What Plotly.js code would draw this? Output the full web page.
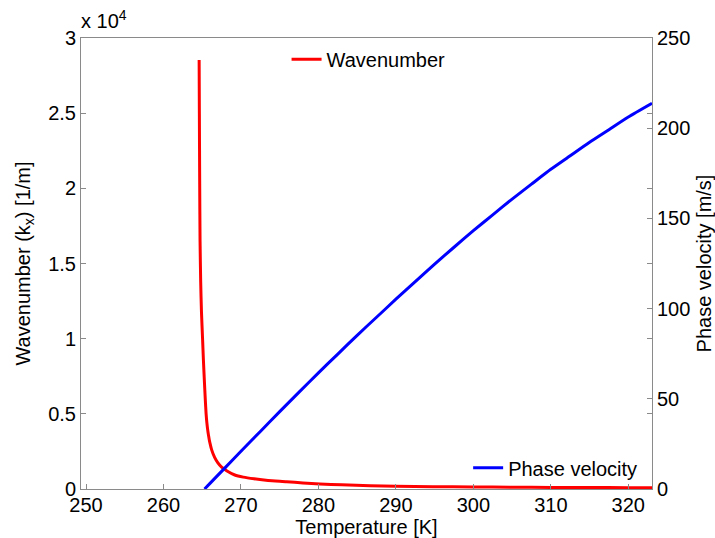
<!DOCTYPE html>
<html>
<head>
<meta charset="utf-8">
<script src="https://cdn.plot.ly/plotly-3.0.1.min.js"></script>
<style>html,body{margin:0;padding:0;background:#fff;}#chart{width:715px;height:538px;}</style>
</head>
<body>
<div id="chart"></div>
<script>
// Temperature [K] and wavenumber k_x [1/m] (red curve)
const tempWave = [264.6, 264.63, 264.67, 264.72, 264.8, 264.9, 265.05, 265.15, 265.27, 265.4, 265.5, 265.6, 265.7, 265.8, 265.9, 266.0, 266.22, 266.6, 267.0, 267.5, 268.2, 269.2, 270.3, 271.7, 273.5, 275.9, 278.0, 280.2, 283.0, 286.7, 290.0, 294.8, 300.0, 305.0, 310.0, 315.0, 320.0, 323.06];
const wavenumber = [28540, 25000, 20500, 16500, 13800, 11800, 9900, 8600, 7250, 5900, 5000, 4400, 3950, 3600, 3300, 3050, 2600, 2100, 1750, 1450, 1200, 931, 790, 680, 570, 486, 400, 333, 275, 222, 190, 155, 135, 120, 108, 98, 90, 86];

// Temperature [K] and phase velocity [m/s] (blue curve)
const tempVel = [265.3, 266, 268, 270, 272.5, 275, 277.5, 280, 282.5, 285, 287.5, 290, 292.5, 295, 297.5, 300, 302.5, 305, 307.5, 310, 312.5, 315, 317.5, 320, 323.06];
const phaseVelocity = [0, 3.1, 12.0, 20.9, 31.9, 42.9, 53.7, 64.4, 74.8, 85.2, 95.2, 105.2, 115.0, 124.7, 134.0, 143.2, 152.0, 160.7, 169.0, 177.2, 184.7, 192.2, 199.2, 206.2, 213.8];

// Axis ticks
const xTicks = [250, 260, 270, 280, 290, 300, 310, 320];
const yTicks = [0, 5000, 10000, 15000, 20000, 25000, 30000];
const yTickText = ['0', '0.5', '1', '1.5', '2', '2.5', '3'];
const y2Ticks = [0, 50, 100, 150, 200, 250];

const FONT = 'Liberation Sans, Arial, sans-serif';
const AXC = '#8a8a8a';
const FS = 20;

const traces = [
  {x: tempWave, y: wavenumber, type: 'scatter', mode: 'lines', name: 'Wavenumber',
   line: {color: '#ff0000', width: 3, shape: 'spline', smoothing: 0.6}, yaxis: 'y', legend: 'legend'},
  {x: tempVel, y: phaseVelocity, type: 'scatter', mode: 'lines', name: 'Phase velocity',
   line: {color: '#0000ff', width: 3, shape: 'spline', smoothing: 0.6}, yaxis: 'y2', legend: 'legend2'}
];

const layout = {
  width: 715, height: 538,
  margin: {l: 81, r: 63, t: 38, b: 49},
  paper_bgcolor: '#fff', plot_bgcolor: '#fff',
  font: {family: FONT, size: FS, color: '#000'},
  showlegend: true,
  xaxis: {
    range: [249.35, 323.06], tickvals: xTicks, ticks: 'inside', ticklen: 5, tickcolor: AXC,
    showline: true, linecolor: AXC, linewidth: 1, mirror: true, showgrid: false, zeroline: false,
    tickfont: {size: FS, family: FONT}, automargin: false, ticklabelstandoff: -2,
    title: {text: 'Temperature [K]', font: {size: FS, family: FONT}, standoff: 0}
  },
  yaxis: {
    range: [0, 30000], tickvals: yTicks, ticktext: yTickText, ticks: 'inside', ticklen: 5, tickcolor: AXC,
    showline: true, linecolor: AXC, linewidth: 1, mirror: 'ticks', showgrid: false, zeroline: false,
    tickfont: {size: FS, family: FONT}, automargin: false,
    title: {text: 'Wavenumber (k<sub>x</sub>) [1/m]', font: {size: FS, family: FONT}, standoff: 12}
  },
  yaxis2: {
    range: [0, 250], tickvals: y2Ticks, ticks: 'inside', ticklen: 5, tickcolor: AXC,
    overlaying: 'y', side: 'right', showline: true, linecolor: AXC, linewidth: 1,
    showgrid: false, zeroline: false, tickfont: {size: FS, family: FONT}, automargin: false,
    title: {text: 'Phase velocity [m/s]', font: {size: FS, family: FONT}, standoff: 10}
  },
  legend: {x: 0.36, y: 0.953, xanchor: 'left', yanchor: 'middle', bgcolor: 'rgba(0,0,0,0)',
    borderwidth: 0, font: {size: FS, family: FONT}},
  legend2: {x: 0.678, y: 0.047, xanchor: 'left', yanchor: 'middle', bgcolor: 'rgba(0,0,0,0)',
    borderwidth: 0, font: {size: FS, family: FONT}},
  annotations: [
    {text: 'x 10<sup>4</sup>', xref: 'paper', yref: 'paper', x: 0, y: 1, xanchor: 'left', yanchor: 'bottom',
     showarrow: false, font: {size: FS, family: FONT, color: '#000'}, xshift: -2, yshift: 4}
  ]
};

Plotly.newPlot('chart', traces, layout, {displayModeBar: false, staticPlot: true});
</script>
</body>
</html>
